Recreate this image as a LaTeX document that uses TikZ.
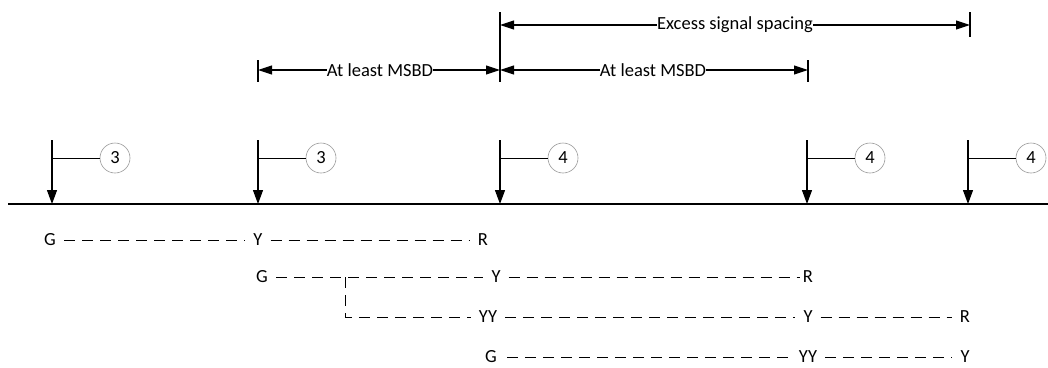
\documentclass[tikz,border=0pt]{standalone}
\usepackage{fontspec}
\setmainfont{Carlito}
\usetikzlibrary{arrows.meta}
\begin{document}
\begin{tikzpicture}[x=1pt,y=-1pt,
  lbl/.style={font=\fontsize{18.5}{20}\selectfont, inner sep=0pt},
  sig/.style={line width=1.2pt, -{Triangle[length=14pt,width=10pt]}},
  circ/.style={circle, draw=gray!80, line width=0.6pt, minimum size=30pt, inner sep=0pt, font=\fontsize{18.5}{20}\selectfont},
  dim/.style={line width=1.1pt},
  darr/.style={line width=1.1pt, -{Triangle[length=14pt,width=9pt]}},
  dsh/.style={line width=1pt, dash pattern=on 11pt off 7pt},
  let/.style={font=\fontsize{18.5}{20}\selectfont, inner sep=8pt}]
\useasboundingbox (0,0) rectangle (1048,367);
% track
\coordinate (tl) at (8,204);
\coordinate (tr) at (1048,204);
\draw[line width=1.5pt] (tl) -- (tr);
% signals
\foreach \n/\x/\num in {1/52/3, 2/258/3, 3/500/4, 4/807/4, 5/968/4}{
  \coordinate (top\n) at (\x,140);
  \coordinate (foot\n) at (\x,204);
  \coordinate (arm\n) at (\x,158);
  \node[circ] (c\n) at (\x+63,158) {\num};
  \draw[sig] (top\n) -- (foot\n);
  \draw[line width=1pt] (arm\n) -- (c\n.west);
}
% dimension ticks
\coordinate (ta) at (258,60); \coordinate (tb) at (258,82);
\coordinate (tc) at (500,12); \coordinate (td) at (500,82);
\coordinate (te) at (808,60); \coordinate (tf) at (808,82);
\coordinate (tg) at (970,12); \coordinate (th) at (970,37);
\draw[dim] (ta) -- (tb);
\draw[dim] (tc) -- (td);
\draw[dim] (te) -- (tf);
\draw[dim] (tg) -- (th);
% dimension arrows
\coordinate (a1l) at (258,70); \coordinate (a1r) at (500,70);
\coordinate (a2l) at (500,70); \coordinate (a2r) at (808,70);
\coordinate (a3l) at (500,25); \coordinate (a3r) at (970,25);
\node[lbl] (l1) at (380,70) {At least MSBD};
\node[lbl] (l2) at (653,70) {At least MSBD};
\node[lbl] (l3) at (735,25) {Excess signal spacing};
\draw[darr] (l1.west) -- (a1l);
\draw[darr] (l1.east) -- (a1r);
\draw[darr] (l2.west) -- (a2l);
\draw[darr] (l2.east) -- (a2r);
\draw[darr] (l3.west) -- (a3l);
\draw[darr] (l3.east) -- (a3r);
% aspect rows
\node[let] (g1) at (50,240) {G};
\node[let] (y1) at (258,240) {Y};
\node[let] (r1) at (483,240) {R};
\draw[dsh] (g1) -- (y1);
\draw[dsh] (y1) -- (r1);
\node[let] (g2) at (262,277) {G};
\node[let] (y2) at (496,277) {Y};
\node[let, inner sep=3pt] (r2) at (808,277) {R};
\draw[dsh] (g2) -- (y2);
\draw[dsh] (y2) -- (r2);
\coordinate (br) at (345,277);
\coordinate (bc) at (345,317);
\node[let] (yy3) at (488,317) {YY};
\node[let] (y3) at (808,317) {Y};
\node[let] (r3) at (965,317) {R};
\draw[dsh] (br) -- (bc) -- (yy3);
\draw[dsh] (yy3) -- (y3);
\draw[dsh] (y3) -- (r3);
\node[let, inner sep=10pt] (g4) at (491,357) {G};
\node[let] (yy4) at (808,357) {YY};
\node[let] (y4) at (965,357) {Y};
\draw[dsh] (g4) -- (yy4);
\draw[dsh] (yy4) -- (y4);
\end{tikzpicture}
\end{document}
